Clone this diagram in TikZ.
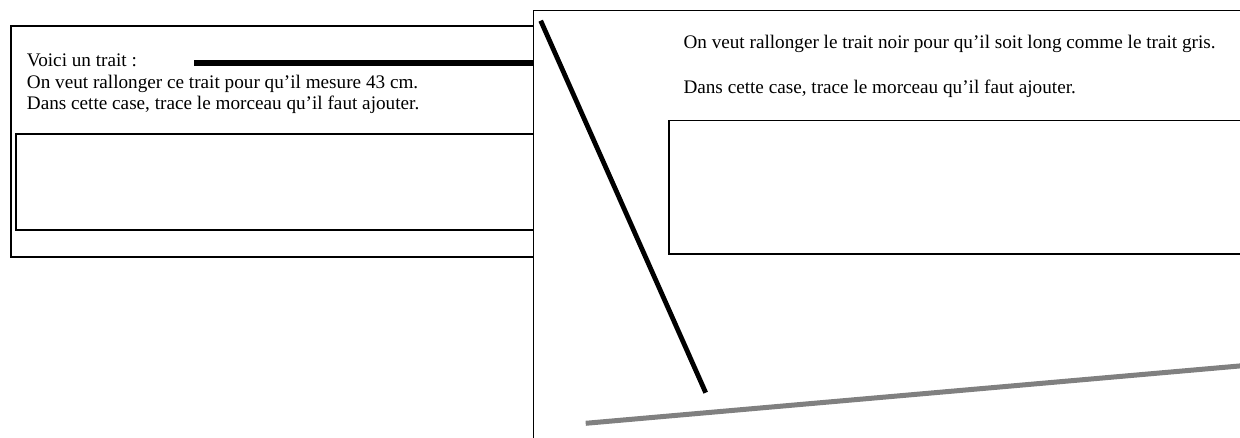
\documentclass[tikz,border=0pt]{standalone}
\usepackage{fontspec}
\setmainfont{Liberation Serif}
\begin{document}
\begin{tikzpicture}[x=1pt,y=-1pt,
  txt/.style={anchor=base west,inner sep=0pt,font=\fontsize{19.2}{23}\selectfont},
  frame/.style={draw=black,line width=2pt},
  thinframe/.style={draw=black,line width=1.6pt},
  blackbar/.style={draw=black,line width=5.5pt},
  graybar/.style={draw=gray,line width=5pt}]
\useasboundingbox (0,0) rectangle (1240,438);
% left card
\draw[frame,fill=white] (11,25.7) rectangle (545,257);
\draw[frame] (16.3,134.3) rectangle (545,229.7);
\node[txt] (l1) at (26.7,67) {Voici un trait :};
\node[txt] (l2) at (26.7,88.5) {On veut rallonger ce trait pour qu’il mesure 43 cm.};
\node[txt] (l3) at (26.7,110) {Dans cette case, trace le morceau qu’il faut ajouter.};
\coordinate (t1) at (194,63);
\coordinate (t2) at (540,63);
\draw[blackbar] (t1) -- (t2);
% right card
\draw[thinframe,fill=white] (533.3,10.7) rectangle (1260,460);
\node[txt] (r1) at (683.3,48.3) {On veut rallonger le trait noir pour qu’il soit long comme le trait gris.};
\node[txt] (r2) at (683.3,93.3) {Dans cette case, trace le morceau qu’il faut ajouter.};
\draw[thinframe] (668.7,120.7) rectangle (1260,254.3);
\coordinate (b1) at (540.7,20.7);
\coordinate (b2) at (705.7,392.7);
\draw[blackbar,line width=4.8pt] (b1) -- (b2);
\coordinate (g1) at (585.7,423.3);
\coordinate (g2) at (1245,365.5);
\draw[graybar] (g1) -- (g2);
\end{tikzpicture}
\end{document}
